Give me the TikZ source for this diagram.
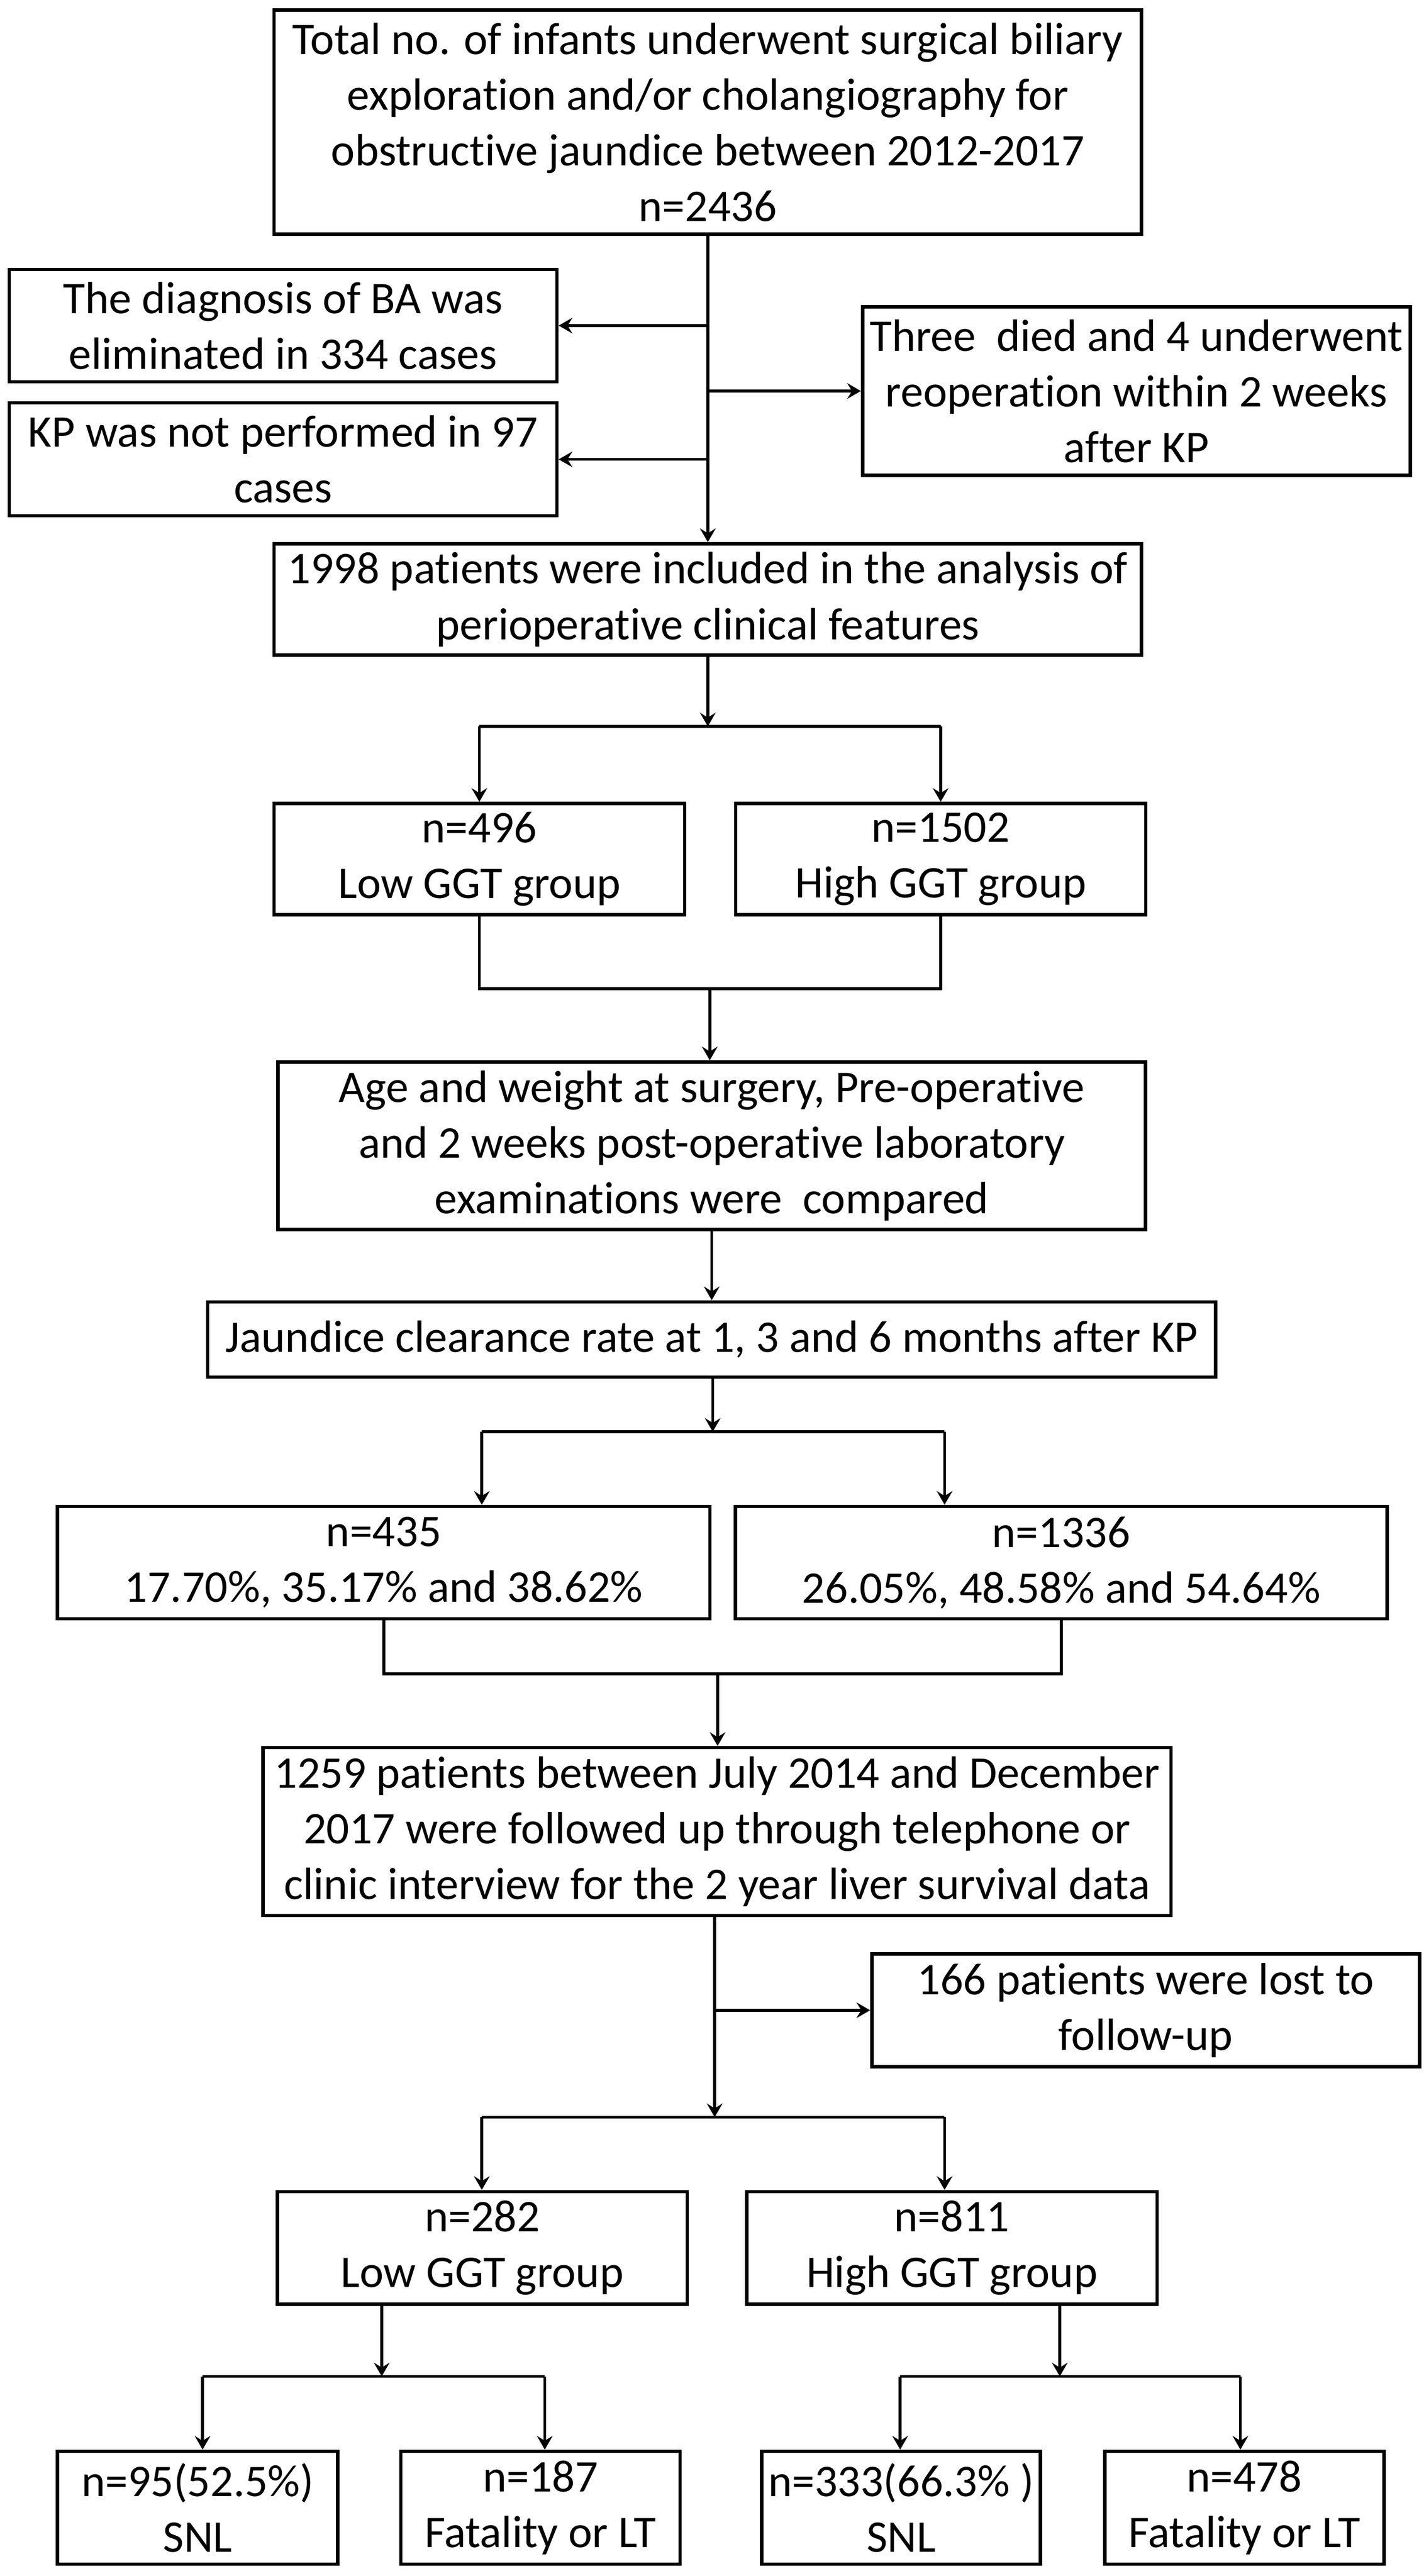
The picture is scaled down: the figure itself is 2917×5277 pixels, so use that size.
\documentclass[tikz,border=0pt]{standalone}
\usepackage{fontspec}
\setmainfont{Carlito}[Ligatures=NoCommon]
\usetikzlibrary{arrows.meta}
\begin{document}
\begin{tikzpicture}[x=0.25pt,y=-0.25pt,
  box/.style={draw, line width=1.75pt, align=center, inner sep=0pt, font=\fontsize{23.2pt}{28.5pt}\selectfont},
  wh/.style 2 args={minimum width=#1*0.25pt, minimum height=#2*0.25pt},
  ln/.style={line width=1.5pt},
  arr/.style={line width=1.5pt, -{Stealth[length=7pt, width=8pt, inset=2.5pt]}}]
\fill[white] (0,0) rectangle (2917,5277);
\useasboundingbox (0,0) rectangle (2917,5277);

\node[box, wh={1777}{459}] (top) at (1450,250) {Total no. of infants underwent surgical biliary\\exploration and/or cholangiography for\\obstructive jaundice between 2012-2017\\n=2436};
\node[box, wh={1122}{230}] (elim) at (580,667) {The diagnosis of BA was\\eliminated in 334 cases};
\node[box, wh={1122}{345}] (three) at (2328,801) {Three\ \ died and 4 underwent\\reoperation within 2 weeks\\after KP};
\node[box, wh={1122}{231}] (kp) at (580,941) {KP was not performed in 97\\cases};
\node[box, wh={1777}{228}] (incl) at (1450,1228) {1998 patients were included in the analysis of\\perioperative clinical features};
\node[box, wh={841}{228}] (low1) at (982,1760) {n=496\\Low GGT group};
\node[box, wh={840}{228}] (high1) at (1927,1760) {n=1502\\High GGT group};
\node[box, wh={1777}{343}] (age) at (1458,2347) {Age and weight at surgery, Pre-operative\\and 2 weeks post-operative laboratory\\examinations were\ \ compared};
\node[box, wh={2065}{154}] (jaund) at (1458,2744) {Jaundice clearance rate at 1, 3 and 6 months after KP};
\node[box, wh={1337}{230}] (r435) at (786,3201) {n=435\\17.70\%, 35.17\% and 38.62\%};
\node[box, wh={1335}{230}] (r1336) at (2174,3201) {n=1336\\26.05\%, 48.58\% and 54.64\%};
\node[box, wh={1860}{344}] (fu) at (1469,3752) {1259 patients between July 2014 and December\\2017 were followed up through telephone or\\clinic interview for the 2 year liver survival data};
\node[box, wh={1122}{231}] (lost) at (2347,4118) {166 patients were lost to\\follow-up};
\node[box, wh={840}{231}] (low2) at (988,4605) {n=282\\Low GGT group};
\node[box, wh={841}{231}] (high2) at (1950,4605) {n=811\\High GGT group};
\node[box, wh={574}{231}] (b1) at (405,5137) {n=95(52.5\%)\\SNL};
\node[box, wh={572}{231}] (b2) at (1107,5137) {n=187\\Fatality or LT};
\node[box, wh={571}{231}] (b3) at (1846,5137) {n=333(66.3\% )\\SNL};
\node[box, wh={572}{231}] (b4) at (2549,5137) {n=478\\Fatality or LT};

% top trunk
\draw[arr] (top.south) -- (incl.north);
\draw[arr] (top.south |- elim.east) -- (elim.east);
\draw[arr] (top.south |- three.west) -- (three.west);
\draw[arr] (top.south |- kp.east) -- (kp.east);

% split 1
\coordinate (s1) at (1450,1488);
\draw[arr] (incl.south) -- (s1);
\draw[ln] (low1.north |- s1) -- (high1.north |- s1);
\draw[arr] (low1.north |- s1) -- (low1.north);
\draw[arr] (high1.north |- s1) -- (high1.north);

% merge 1
\coordinate (j1) at (1454,2025);
\draw[ln] (low1.south) |- (j1) -| (high1.south);
\draw[arr] (j1) -- (j1 |- age.north);
\draw[arr] (age.south) -- (age.south |- jaund.north);

% split 2
\coordinate (s2) at (1460,2933);
\coordinate (s2l) at (987,2933);
\coordinate (s2r) at (1935,2933);
\draw[arr] (jaund.south -| s2) -- (s2);
\draw[ln] (s2l) -- (s2r);
\draw[arr] (s2l) -- (s2l |- r435.north);
\draw[arr] (s2r) -- (s2r |- r1336.north);

% merge 2
\coordinate (j2) at (1470,3429);
\draw[ln] (r435.south) |- (j2) -| (r1336.south);
\draw[arr] (j2) -- (j2 |- fu.north);

% split 3
\coordinate (s3) at (1464,4337);
\coordinate (s3l) at (987,4337);
\coordinate (s3r) at (1935,4337);
\draw[arr] (fu.south -| s3) -- (s3);
\draw[arr] (s3 |- lost.west) -- (lost.west);
\draw[ln] (s3l) -- (s3r);
\draw[arr] (s3l) -- (s3l |- low2.north);
\draw[arr] (s3r) -- (s3r |- high2.north);

% split 4
\coordinate (s4) at (782,4868);
\coordinate (s4l) at (415,4868);
\coordinate (s4r) at (1116,4868);
\draw[arr] (low2.south -| s4) -- (s4);
\draw[ln] (s4l) -- (s4r);
\draw[arr] (s4l) -- (s4l |- b1.north);
\draw[arr] (s4r) -- (s4r |- b2.north);

% split 5
\coordinate (s5) at (2171,4868);
\coordinate (s5l) at (1844,4868);
\coordinate (s5r) at (2541,4868);
\draw[arr] (high2.south -| s5) -- (s5);
\draw[ln] (s5l) -- (s5r);
\draw[arr] (s5l) -- (s5l |- b3.north);
\draw[arr] (s5r) -- (s5r |- b4.north);
\end{tikzpicture}
\end{document}
